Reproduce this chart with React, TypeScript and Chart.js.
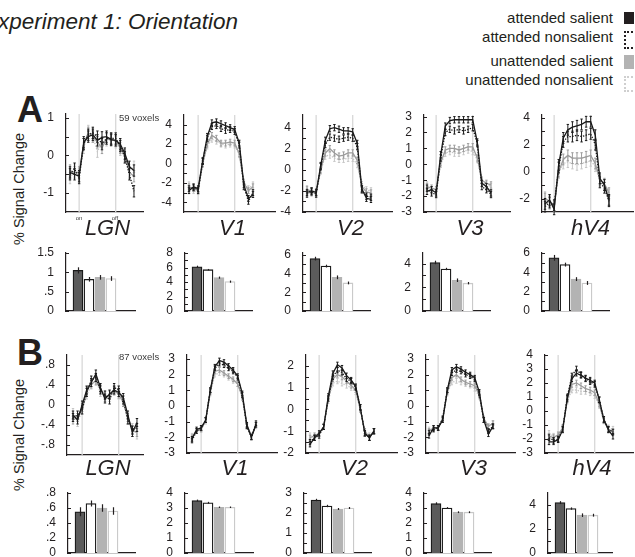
import React, { useEffect, useRef } from "react";
import { Chart, registerables } from "chart.js";

Chart.register(...registerables);

const FONT = "'Liberation Sans', Arial, Helvetica, sans-serif";
const INK = "#231f20";

// ---------------- data ----------------
const TIME_IDX = [0, 1, 2, 3, 4, 5, 6, 7, 8, 9, 10, 11, 12, 13, 14];
const STIM_ON = 2;
const STIM_OFF = 10;
const CONDITIONS = ["attended salient", "attended nonsalient", "unattended salient", "unattended nonsalient"];
const REGIONS = ["LGN", "V1", "V2", "V3", "hV4"];
const VOXELS_A = "59 voxels";
const VOXELS_B = "87 voxels";

// time courses, order: attended salient, attended nonsalient, unattended salient, unattended nonsalient
const tcA_LGN = [
  [-0.45, -0.5, -0.55, 0.35, 0.5, 0.55, 0.4, 0.48, 0.5, 0.42, 0.4, 0.3, 0.05, -0.3, -0.4],
  [-0.5, -0.35, -0.6, 0.3, 0.55, 0.6, 0.5, 0.3, 0.45, 0.45, 0.45, 0.25, -0.05, -0.5, -0.95],
  [-0.4, -0.45, -0.45, 0.3, 0.6, 0.5, 0.35, 0.2, 0.45, 0.4, 0.4, 0.2, 0.0, -0.45, -0.55],
  [-0.6, -0.4, -0.5, 0.2, 0.65, 0.5, 0.1, 0.35, 0.4, 0.45, 0.35, 0.15, -0.05, -0.4, -0.3],
];
const tcA_V1 = [
  [-2.8, -2.4, -2.6, 0.3, 2.8, 4.2, 4.3, 4.1, 3.9, 3.7, 3.5, 2.1, -2.2, -3.6, -3.2],
  [-2.6, -2.5, -2.8, 0.2, 2.6, 3.8, 3.9, 3.6, 3.4, 3.5, 3.3, 1.9, -2.4, -3.9, -3.0],
  [-2.4, -2.6, -2.7, 0.0, 2.0, 2.9, 2.6, 2.1, 2.1, 2.2, 2.1, 1.0, -2.0, -2.8, -2.4],
  [-2.2, -2.8, -2.9, -0.1, 1.8, 2.5, 2.3, 2.0, 1.9, 2.0, 1.9, 0.9, -1.9, -2.6, -2.2],
];
const tcA_V2 = [
  [-2.15, -2.0, -2.15, 0.4, 2.8, 3.9, 4.0, 3.85, 3.7, 3.7, 3.6, 2.5, -1.8, -2.7, -2.8],
  [-2.3, -2.1, -2.3, 0.3, 2.4, 3.1, 3.0, 2.9, 3.0, 3.1, 3.0, 2.2, -1.9, -2.5, -2.6],
  [-1.9, -2.0, -2.1, 0.0, 1.6, 2.0, 1.6, 1.3, 1.4, 1.6, 1.6, 0.9, -1.6, -2.1, -2.2],
  [-1.8, -2.2, -2.2, -0.1, 1.3, 1.4, 1.1, 1.0, 1.0, 1.1, 1.1, 0.5, -1.4, -1.9, -2.0],
];
const tcA_V3 = [
  [-1.7, -1.6, -1.8, 0.6, 2.4, 2.75, 2.8, 2.8, 2.8, 2.8, 2.8, 1.4, -1.2, -1.4, -1.8],
  [-1.5, -1.8, -1.9, 0.4, 2.0, 2.2, 2.1, 2.2, 2.1, 2.2, 2.3, 1.3, -1.4, -1.6, -1.9],
  [-1.4, -1.5, -1.6, 0.1, 0.9, 1.0, 1.0, 0.9, 1.0, 1.1, 1.1, 0.4, -1.0, -1.2, -1.3],
  [-1.3, -1.7, -1.7, 0.0, 0.7, 0.8, 0.7, 0.7, 0.8, 0.9, 0.8, 0.3, -1.1, -1.3, -1.4],
];
const tcA_hV4 = [
  [-2.4, -2.1, -2.8, 0.5, 2.5, 3.1, 3.3, 3.4, 3.5, 3.7, 3.7, 2.7, -0.5, -1.0, -2.1],
  [-2.6, -2.3, -2.5, 0.3, 2.2, 2.6, 2.6, 2.7, 2.6, 2.7, 2.8, 2.0, -0.8, -1.2, -2.2],
  [-2.0, -2.2, -2.5, 0.0, 0.9, 1.2, 1.0, 1.0, 1.0, 1.1, 1.2, 0.6, -0.6, -0.9, -1.6],
  [-1.9, -2.4, -2.6, -0.1, 0.6, 0.7, 0.6, 0.5, 0.6, 0.7, 0.8, 0.4, -0.7, -1.0, -1.7],
];
const tcB_LGN = [
  [-0.2, -0.3, 0.0, 0.3, 0.45, 0.62, 0.35, 0.12, 0.22, 0.3, 0.25, 0.15, -0.2, -0.55, -0.35],
  [-0.25, -0.2, -0.1, 0.25, 0.5, 0.55, 0.3, 0.2, 0.1, 0.35, 0.3, 0.1, -0.3, -0.5, -0.45],
  [-0.3, -0.25, -0.05, 0.28, 0.42, 0.48, 0.32, 0.15, 0.2, 0.28, 0.22, 0.05, -0.25, -0.5, -0.55],
  [-0.15, -0.35, -0.1, 0.2, 0.4, 0.5, 0.25, 0.2, 0.15, 0.3, 0.2, 0.05, -0.3, -0.45, -0.6],
];
const tcB_V1 = [
  [-2.1, -1.5, -1.4, -0.9, 1.0, 2.5, 2.9, 2.8, 2.55, 2.3, 1.9, 0.8, -1.2, -2.0, -1.2],
  [-2.2, -1.6, -1.4, -0.9, 1.0, 2.4, 2.7, 2.6, 2.4, 2.2, 1.8, 0.7, -1.3, -2.0, -1.1],
  [-2.0, -1.6, -1.5, -0.9, 0.9, 2.2, 2.3, 2.1, 1.9, 1.7, 1.4, 0.6, -1.2, -1.9, -1.2],
  [-1.9, -1.6, -1.5, -1.0, 0.8, 2.0, 2.1, 2.0, 1.8, 1.6, 1.4, 0.5, -1.3, -1.9, -1.3],
];
const tcB_V2 = [
  [-1.6, -1.3, -1.1, -0.8, 0.6, 1.65, 2.05, 1.9, 1.55, 1.35, 1.05, 0.1, -1.1, -1.3, -1.0],
  [-1.5, -1.3, -1.2, -0.8, 0.5, 1.5, 1.8, 1.7, 1.4, 1.3, 1.0, 0.1, -1.1, -1.3, -1.0],
  [-1.3, -1.2, -1.1, -0.8, 0.5, 1.4, 1.6, 1.5, 1.3, 1.1, 0.9, 0.0, -1.0, -1.3, -1.0],
  [-1.2, -1.3, -1.1, -0.8, 0.4, 1.2, 1.3, 1.2, 1.1, 1.0, 0.8, 0.0, -1.0, -1.2, -1.0],
];
const tcB_V3 = [
  [-1.9, -1.4, -1.4, -0.9, 1.0, 2.3, 2.5, 2.35, 2.15, 2.0, 1.8, 0.9, -0.9, -1.8, -1.3],
  [-1.7, -1.5, -1.4, -0.8, 1.0, 2.1, 2.3, 2.2, 2.0, 1.9, 1.7, 0.8, -0.9, -1.6, -1.3],
  [-1.6, -1.4, -1.4, -0.8, 0.9, 1.8, 2.0, 1.7, 1.5, 1.4, 1.3, 0.7, -0.8, -1.3, -1.1],
  [-1.5, -1.5, -1.4, -0.9, 0.8, 1.5, 1.6, 1.5, 1.4, 1.3, 1.1, 0.6, -0.9, -1.3, -1.1],
];
const tcB_hV4 = [
  [-2.2, -2.2, -2.05, -1.35, 0.9, 2.3, 2.7, 2.55, 2.35, 2.2, 2.0, 0.8, -0.6, -1.35, -1.8],
  [-1.9, -2.1, -2.0, -1.3, 1.0, 2.5, 3.0, 2.6, 2.3, 2.1, 1.9, 0.8, -0.6, -1.3, -1.5],
  [-1.8, -1.9, -1.7, -1.2, 0.8, 1.9, 2.0, 1.8, 1.6, 1.5, 1.3, 0.5, -0.7, -1.3, -1.5],
  [-1.6, -1.8, -1.8, -1.2, 0.7, 1.5, 1.5, 1.4, 1.4, 1.3, 1.1, 0.4, -0.7, -1.2, -1.3],
];
// time-course error (s.e.m.) per region
const tcErrA = [0.15, 0.3, 0.3, 0.2, 0.4];
const tcErrB = [0.08, 0.15, 0.12, 0.15, 0.2];

// mean response bars
const barA_LGN = [1.05, 0.82, 0.87, 0.84];
const barA_V1 = [6.1, 5.7, 4.6, 4.05];
const barA_V2 = [5.6, 4.8, 3.6, 3.0];
const barA_V3 = [4.1, 3.55, 2.6, 2.35];
const barA_hV4 = [5.5, 4.8, 3.3, 2.9];
const barB_LGN = [0.55, 0.66, 0.6, 0.56];
const barB_V1 = [3.5, 3.35, 3.05, 3.05];
const barB_V2 = [2.65, 2.35, 2.2, 2.25];
const barB_V3 = [3.3, 3.0, 2.72, 2.72];
const barB_hV4 = [4.2, 3.7, 3.15, 3.15];
const barErrA_LGN = [0.08, 0.06, 0.06, 0.06];
const barErrA_V1 = [0.15, 0.1, 0.15, 0.15];
const barErrA_V2 = [0.2, 0.15, 0.2, 0.15];
const barErrA_V3 = [0.15, 0.1, 0.15, 0.1];
const barErrA_hV4 = [0.3, 0.2, 0.2, 0.2];
const barErrB_LGN = [0.06, 0.04, 0.05, 0.05];
const barErrB_V1 = [0.06, 0.06, 0.05, 0.05];
const barErrB_V2 = [0.06, 0.06, 0.05, 0.05];
const barErrB_V3 = [0.08, 0.06, 0.06, 0.06];
const barErrB_hV4 = [0.12, 0.1, 0.15, 0.12];

// tick labels
const ytA_LGN = [-1, 0, 1];
const ytA_LGN_minor = [-0.5, 0.5];
const ytA_V1 = [-4, -2, 0, 2, 4];
const ytA_V1_minor = [-3, -1, 1, 3];
const ytA_V2 = [-4, -2, 0, 2, 4];
const ytA_V2_minor = [-3, -1, 1, 3];
const ytA_V3 = [-3, -2, -1, 0, 1, 2, 3];
const ytA_hV4 = [-2, 0, 2, 4];
const ytA_hV4_minor = [-1, 1, 3];
const ytB_LGN = [-0.8, -0.4, 0, 0.4, 0.8];
const ytB_LGN_minor = [-0.6, -0.2, 0.2, 0.6];
const ytB_V1 = [-3, -2, -1, 0, 1, 2, 3];
const ytB_V2 = [-2, -1, 0, 1, 2];
const ytB_V2_minor = [-1.5, -0.5, 0.5, 1.5];
const ytB_V3 = [-3, -2, -1, 0, 1, 2, 3];
const ytB_hV4 = [-3, -2, -1, 0, 1, 2, 3, 4];
const btA_LGN = [0, 0.5, 1, 1.5];
const btA_V1 = [0, 2, 4, 6, 8];
const btA_V1_minor = [1, 3, 5, 7];
const btA_V2 = [0, 2, 4, 6];
const btA_V2_minor = [1, 3, 5];
const btA_V3 = [0, 2, 4];
const btA_V3_minor = [1, 3];
const btA_hV4 = [0, 2, 4, 6];
const btA_hV4_minor = [1, 3, 5];
const btB_LGN = [0, 0.2, 0.4, 0.6, 0.8];
const btB_V1 = [0, 1, 2, 3, 4];
const btB_V2 = [0, 1, 2, 3];
const btB_V2_minor = [0.5, 1.5, 2.5];
const btB_V3 = [0, 1, 2, 3, 4];
const btB_hV4 = [0, 2, 4];
const btB_hV4_minor = [1, 3];

// ---------------- styles / layout ----------------
const SERIES_STYLE = [
  { color: "#1a1a1a", dash: [] as number[] },
  { color: "#1a1a1a", dash: [1.4, 1.4] },
  { color: "#9c9c9c", dash: [] as number[] },
  { color: "#c6c6c6", dash: [1.4, 1.4] },
];
const BAR_FILL = ["#5b5b5b", "#ffffff", "#b3b3b3", "#ffffff"];
const BAR_EDGE = ["#1a1a1a", "#1a1a1a", "#b3b3b3", "#c9c9c9"];
const SP = 4.57; // px per time index
const YW = 34;
const PAD = 9;

type LineSpec = {
  series: number[][]; err: number; yMin: number; yMax: number; major: number[]; minor: number[];
  axisX: number; axisEnd: number; dataStart: number; top: number; bottom: number;
};
type BarSpec = {
  values: number[]; err: number[]; yMax: number; major: number[]; minor: number[];
  axisX: number; axisEnd: number; top: number; bottom: number;
};

const LINES: LineSpec[] = [
  { series: tcA_LGN, err: tcErrA[0], yMin: -1.5, yMax: 1.1, major: ytA_LGN, minor: ytA_LGN_minor, axisX: 66, axisEnd: 143, dataStart: 70, top: 114, bottom: 212 },
  { series: tcA_V1, err: tcErrA[1], yMin: -5, yMax: 5, major: ytA_V1, minor: ytA_V1_minor, axisX: 184, axisEnd: 275, dataStart: 189, top: 115, bottom: 212 },
  { series: tcA_V2, err: tcErrA[2], yMin: -4, yMax: 5.2, major: ytA_V2, minor: ytA_V2_minor, axisX: 303, axisEnd: 392, dataStart: 307, top: 115, bottom: 212 },
  { series: tcA_V3, err: tcErrA[3], yMin: -3, yMax: 3.1, major: ytA_V3, minor: [], axisX: 424, axisEnd: 510, dataStart: 427, top: 115, bottom: 212 },
  { series: tcA_hV4, err: tcErrA[4], yMin: -3, yMax: 4.2, major: ytA_hV4, minor: ytA_hV4_minor, axisX: 542, axisEnd: 633, dataStart: 545, top: 115, bottom: 212 },
  { series: tcB_LGN, err: tcErrB[0], yMin: -1, yMax: 1, major: ytB_LGN, minor: ytB_LGN_minor, axisX: 67, axisEnd: 143, dataStart: 73, top: 355, bottom: 455 },
  { series: tcB_V1, err: tcErrB[1], yMin: -3, yMax: 3.25, major: ytB_V1, minor: [], axisX: 187, axisEnd: 277, dataStart: 192, top: 355, bottom: 453 },
  { series: tcB_V2, err: tcErrB[2], yMin: -2, yMax: 2.5, major: ytB_V2, minor: ytB_V2_minor, axisX: 306, axisEnd: 397, dataStart: 310, top: 355, bottom: 453 },
  { series: tcB_V3, err: tcErrB[3], yMin: -3, yMax: 3.25, major: ytB_V3, minor: [], axisX: 426, axisEnd: 515, dataStart: 429, top: 355, bottom: 453 },
  { series: tcB_hV4, err: tcErrB[4], yMin: -3, yMax: 4, major: ytB_hV4, minor: [], axisX: 545, axisEnd: 633, dataStart: 549, top: 355, bottom: 453 },
];

const BARS: BarSpec[] = [
  { values: barA_LGN, err: barErrA_LGN, yMax: 1.5, major: btA_LGN, minor: [], axisX: 66, axisEnd: 135, top: 253, bottom: 311 },
  { values: barA_V1, err: barErrA_V1, yMax: 8, major: btA_V1, minor: btA_V1_minor, axisX: 185, axisEnd: 252, top: 253, bottom: 311 },
  { values: barA_V2, err: barErrA_V2, yMax: 6.2, major: btA_V2, minor: btA_V2_minor, axisX: 303, axisEnd: 370, top: 253, bottom: 311 },
  { values: barA_V3, err: barErrA_V3, yMax: 4.9, major: btA_V3, minor: btA_V3_minor, axisX: 423, axisEnd: 490, top: 253, bottom: 311 },
  { values: barA_hV4, err: barErrA_hV4, yMax: 6, major: btA_hV4, minor: btA_hV4_minor, axisX: 542, axisEnd: 609, top: 253, bottom: 311 },
  { values: barB_LGN, err: barErrB_LGN, yMax: 0.8, major: btB_LGN, minor: [], axisX: 68, axisEnd: 135, top: 493, bottom: 553 },
  { values: barB_V1, err: barErrB_V1, yMax: 4, major: btB_V1, minor: [], axisX: 185, axisEnd: 253, top: 493, bottom: 553 },
  { values: barB_V2, err: barErrB_V2, yMax: 3, major: btB_V2, minor: btB_V2_minor, axisX: 304, axisEnd: 371, top: 493, bottom: 553 },
  { values: barB_V3, err: barErrB_V3, yMax: 4, major: btB_V3, minor: [], axisX: 424, axisEnd: 491, top: 493, bottom: 553 },
  { values: barB_hV4, err: barErrB_hV4, yMax: 5, major: btB_hV4, minor: btB_hV4_minor, axisX: 548, axisEnd: 612, top: 493, bottom: 553 },
];

function fmt(v: number): string {
  const r = Math.round(v * 100) / 100;
  return String(r).replace(/^0\./, ".").replace(/^-0\./, "-.");
}

function yScale(min: number, max: number, major: number[], minor: number[]) {
  const majorSet = new Set(major);
  return {
    type: "linear" as const,
    min,
    max,
    grid: { display: false },
    border: { display: true, color: INK, width: 1.2 },
    ticks: {
      autoSkip: false,
      padding: 4,
      color: INK,
      font: { family: FONT, size: 12 },
      callback: (v: any) => (majorSet.has(Number(v)) ? fmt(Number(v)) : ""),
    },
    afterBuildTicks: (s: any) => {
      s.ticks = [...major, ...minor].sort((a, b) => a - b).map((v) => ({ value: v }));
    },
    afterFit: (s: any) => {
      s.width = YW;
      s.paddingTop = 0;
      s.paddingBottom = 0;
    },
  };
}

function xScale(min: number, max: number) {
  return {
    type: "linear" as const,
    min,
    max,
    offset: false,
    grid: { display: false },
    border: { display: true, color: INK, width: 1.2 },
    ticks: { display: false },
    afterFit: (s: any) => {
      s.height = 0;
      s.paddingLeft = 0;
      s.paddingRight = 0;
    },
  };
}

const inwardTicks = {
  id: "inwardTicks",
  afterDraw(chart: any) {
    const ys = chart.scales.y;
    const ctx = chart.ctx;
    const left = chart.chartArea.left;
    ctx.save();
    ctx.strokeStyle = INK;
    ctx.lineWidth = 1;
    ys.ticks.forEach((t: any) => {
      const y = Math.round(ys.getPixelForValue(t.value)) + 0.5;
      ctx.beginPath();
      ctx.moveTo(left, y);
      ctx.lineTo(left + 3, y);
      ctx.stroke();
    });
    ctx.restore();
  },
};

function LinePanel({ p }: { p: LineSpec }) {
  const ref = useRef<HTMLCanvasElement>(null);
  const w = YW + (p.axisEnd - p.axisX) + 2;
  const h = PAD + (p.bottom - p.top) + PAD;
  useEffect(() => {
    const xMin = (p.axisX - p.dataStart) / SP;
    const xMax = (p.axisEnd - p.dataStart) / SP;
    const panelPlugin = {
      id: "panelDecor",
      beforeDatasetsDraw(chart: any) {
        const { ctx, chartArea, scales } = chart;
        ctx.save();
        ctx.strokeStyle = "#d8d8d8";
        ctx.lineWidth = 1.3;
        [STIM_ON, STIM_OFF].forEach((t) => {
          const x = scales.x.getPixelForValue(t);
          ctx.beginPath();
          ctx.moveTo(x, chartArea.top);
          ctx.lineTo(x, chartArea.bottom);
          ctx.stroke();
        });
        ctx.restore();
      },
      afterDatasetDraw(chart: any, args: any) {
        const { ctx, scales } = chart;
        const i = args.index;
        const style = SERIES_STYLE[i];
        ctx.save();
        ctx.strokeStyle = style.color;
        ctx.lineWidth = 1;
        p.series[i].forEach((v, k) => {
          const x = scales.x.getPixelForValue(TIME_IDX[k]);
          const y0 = scales.y.getPixelForValue(v - p.err);
          const y1 = scales.y.getPixelForValue(v + p.err);
          ctx.beginPath();
          ctx.moveTo(x, y0);
          ctx.lineTo(x, y1);
          ctx.moveTo(x - 1.2, y0);
          ctx.lineTo(x + 1.2, y0);
          ctx.moveTo(x - 1.2, y1);
          ctx.lineTo(x + 1.2, y1);
          ctx.stroke();
        });
        ctx.restore();
      },
    };
    const chart = new Chart(ref.current!, {
      type: "line",
      data: {
        datasets: p.series.map((s, i) => ({
          label: CONDITIONS[i],
          data: s.map((v, k) => ({ x: TIME_IDX[k], y: v })),
          borderColor: SERIES_STYLE[i].color,
          borderDash: SERIES_STYLE[i].dash,
          borderWidth: 1.3,
          pointRadius: 0,
          tension: 0,
          fill: false,
        })),
      },
      options: {
        animation: false,
        responsive: false,
        events: [],
        layout: { padding: { top: PAD, bottom: PAD, left: 0, right: 2 } },
        plugins: { legend: { display: false }, tooltip: { enabled: false }, title: { display: false } },
        scales: { x: xScale(xMin, xMax) as any, y: yScale(p.yMin, p.yMax, p.major, p.minor) as any },
      },
      plugins: [panelPlugin, inwardTicks],
    });
    return () => chart.destroy();
  }, []);
  return (
    <canvas
      ref={ref}
      width={w}
      height={h}
      style={{ position: "absolute", left: p.axisX - YW, top: p.top - PAD, width: w, height: h }}
    />
  );
}

function BarPanel({ p }: { p: BarSpec }) {
  const ref = useRef<HTMLCanvasElement>(null);
  const w = YW + (p.axisEnd - p.axisX) + 2;
  const h = PAD + (p.bottom - p.top) + PAD;
  useEffect(() => {
    const len = p.axisEnd - p.axisX;
    const xMin = -12 / 11;
    const xMax = xMin + len / 11;
    const errPlugin = {
      id: "barErr",
      afterDatasetsDraw(chart: any) {
        const { ctx, scales } = chart;
        const meta = chart.getDatasetMeta(0);
        ctx.save();
        ctx.strokeStyle = INK;
        ctx.lineWidth = 1.2;
        meta.data.forEach((el: any, i: number) => {
          const x = Math.round(el.x) + 0.5;
          ctx.beginPath();
          ctx.moveTo(x, scales.y.getPixelForValue(p.values[i] - p.err[i]));
          ctx.lineTo(x, scales.y.getPixelForValue(p.values[i] + p.err[i]));
          ctx.stroke();
        });
        ctx.restore();
      },
    };
    const chart = new Chart(ref.current!, {
      type: "bar",
      data: {
        datasets: [
          {
            label: "mean",
            data: p.values.map((v, i) => ({ x: i, y: v })),
            backgroundColor: BAR_FILL,
            borderColor: BAR_EDGE,
            borderWidth: 1.3,
            barThickness: 10,
          },
        ],
      },
      options: {
        animation: false,
        responsive: false,
        events: [],
        layout: { padding: { top: PAD, bottom: PAD, left: 0, right: 2 } },
        plugins: { legend: { display: false }, tooltip: { enabled: false }, title: { display: false } },
        scales: { x: xScale(xMin, xMax) as any, y: yScale(0, p.yMax, p.major, p.minor) as any },
      },
      plugins: [errPlugin, inwardTicks],
    });
    return () => chart.destroy();
  }, []);
  return (
    <canvas
      ref={ref}
      width={w}
      height={h}
      style={{ position: "absolute", left: p.axisX - YW, top: p.top - PAD, width: w, height: h }}
    />
  );
}

function Txt(props: {
  x: number; y: number; size: number; align?: "left" | "center" | "right";
  italic?: boolean; bold?: boolean; color?: string; children: React.ReactNode;
}) {
  const { x, y, size, align = "left", italic, bold, color = INK, children } = props;
  const tx = align === "center" ? "translateX(-50%)" : align === "right" ? "translateX(-100%)" : "none";
  return (
    <div
      style={{
        position: "absolute",
        left: x,
        top: y - 0.8465 * size,
        fontFamily: FONT,
        fontSize: size,
        lineHeight: 1,
        fontStyle: italic ? "italic" : "normal",
        fontWeight: bold ? "bold" : "normal",
        color,
        whiteSpace: "nowrap",
        transform: tx,
      }}
    >
      {children}
    </div>
  );
}

function VLabel({ cx, cy }: { cx: number; cy: number }) {
  return (
    <div
      style={{
        position: "absolute",
        left: cx,
        top: cy,
        transform: "translate(-50%, -50%) rotate(-90deg)",
        fontFamily: FONT,
        fontSize: 14.5,
        lineHeight: 1,
        color: INK,
        whiteSpace: "nowrap",
      }}
    >
      % Signal Change
    </div>
  );
}

export default function App() {
  const legendBaselines = [23, 42, 66, 85];
  return (
    <div
      style={{
        position: "fixed",
        left: 0,
        top: 0,
        width: 635,
        height: 557,
        overflow: "hidden",
        background: "#ffffff",
      }}
    >
      <Txt x={-17} y={30} size={22.5} italic>
        Experiment 1: Orientation
      </Txt>

      {CONDITIONS.map((c, i) => (
        <Txt key={c} x={613} y={legendBaselines[i]} size={15} align="right">
          {c}
        </Txt>
      ))}
      <div style={{ position: "absolute", left: 624, top: 12, width: 10, height: 12, background: "#231f20" }} />
      <div style={{ position: "absolute", left: 624, top: 31, width: 12, height: 14, border: "2px dotted #231f20" }} />
      <div style={{ position: "absolute", left: 624, top: 55, width: 10, height: 14, background: "#b3b3b3" }} />
      <div style={{ position: "absolute", left: 624, top: 76, width: 12, height: 12, border: "2px dotted #cfcfcf" }} />

      <Txt x={17} y={122} size={36} bold>
        A
      </Txt>
      <Txt x={17} y={365} size={36} bold>
        B
      </Txt>
      <VLabel cx={19} cy={189} />
      <VLabel cx={19} cy={435} />

      {LINES.map((p, i) => (
        <LinePanel key={"l" + i} p={p} />
      ))}
      {BARS.map((p, i) => (
        <BarPanel key={"b" + i} p={p} />
      ))}

      <Txt x={119} y={121} size={9.5} color="#3a3a3a">
        {VOXELS_A}
      </Txt>
      <Txt x={119} y={360} size={9.5} color="#3a3a3a">
        {VOXELS_B}
      </Txt>
      <Txt x={79} y={220} size={6} align="center" color="#3a3a3a">
        on
      </Txt>
      <Txt x={115} y={220} size={6} align="center" color="#3a3a3a">
        off
      </Txt>

      {REGIONS.map((r, i) => (
        <Txt key={"ra" + r} x={(LINES[i].axisX + LINES[i].axisEnd) / 2 + 3} y={236} size={22} italic align="center">
          {r}
        </Txt>
      ))}
      {REGIONS.map((r, i) => (
        <Txt key={"rb" + r} x={(LINES[i + 5].axisX + LINES[i + 5].axisEnd) / 2 + 3} y={476} size={22} italic align="center">
          {r}
        </Txt>
      ))}
    </div>
  );
}
